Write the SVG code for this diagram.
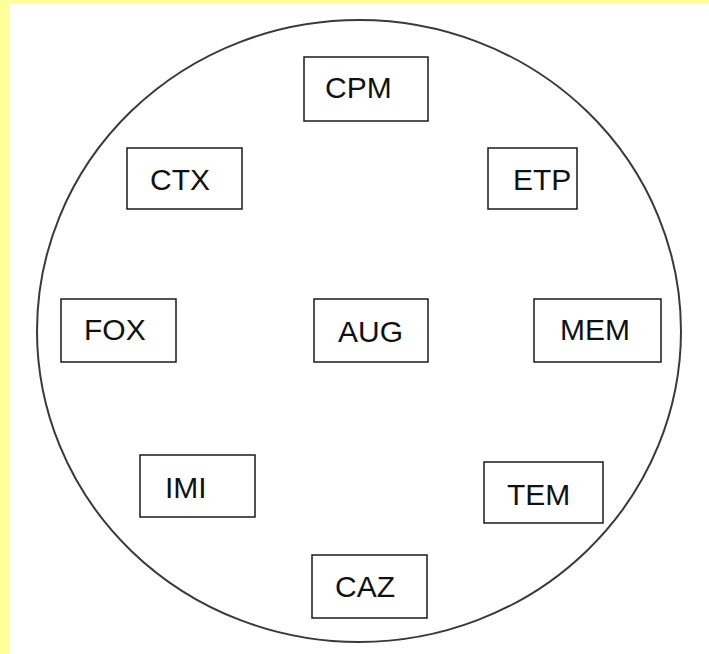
<svg xmlns="http://www.w3.org/2000/svg" width="709" height="654" viewBox="0 0 709 654">
  <style>
    .box rect { fill: #ffffff; stroke: #1a1a1a; stroke-width: 1.5; }
    .box text { font-family: "Liberation Sans", Arial, sans-serif; font-size: 30px; fill: #111111; }
    .ring { fill: none; stroke: #3a3a3a; stroke-width: 2; }
  </style>
  <!-- page frame -->
  <rect x="0" y="0" width="709" height="654" fill="#ffffff"/>
  <rect x="0" y="0" width="709" height="4" fill="#ffff99"/>
  <rect x="0" y="0" width="10" height="654" fill="#ffff99"/>

  <!-- enclosing circle -->
  <ellipse class="ring" cx="359" cy="331" rx="322" ry="311"/>

  <g id="connectors"></g>

  <g id="cpm" class="box"><rect x="304" y="57" width="124" height="64"/><text x="325" y="98">CPM</text></g>
  <g id="ctx" class="box"><rect x="127" y="148" width="115" height="61"/><text x="150" y="190">CTX</text></g>
  <g id="etp" class="box"><rect x="488" y="148" width="89" height="61"/><text x="513" y="190">ETP</text></g>
  <g id="fox" class="box"><rect x="61" y="299" width="115" height="63"/><text x="84" y="340">FOX</text></g>
  <g id="aug" class="box"><rect x="314" y="299" width="114" height="63"/><text x="338" y="342">AUG</text></g>
  <g id="mem" class="box"><rect x="534" y="299" width="127" height="63"/><text x="560" y="340">MEM</text></g>
  <g id="imi" class="box"><rect x="140" y="455" width="115" height="62"/><text x="165" y="498">IMI</text></g>
  <g id="tem" class="box"><rect x="484" y="462" width="119" height="61"/><text x="507" y="505">TEM</text></g>
  <g id="caz" class="box"><rect x="312" y="555" width="115" height="63"/><text x="335" y="597">CAZ</text></g>
</svg>
